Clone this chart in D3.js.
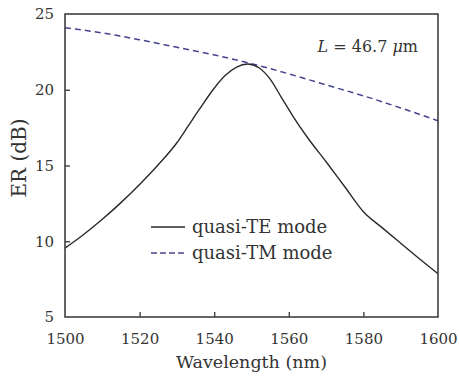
<!DOCTYPE html>
<html>
<head>
<meta charset="utf-8">
<script src="https://cdn.jsdelivr.net/npm/d3@7"></script>
<style>
  body { margin: 0; background: #fff; }
  text { font-family: "DejaVu Serif", serif; fill: #333; }
</style>
</head>
<body>
<div id="chart"></div>
<script>
// data
var teWave = [1500, 1505, 1510, 1515, 1520, 1525, 1530, 1533, 1536, 1540, 1543, 1546, 1549, 1552, 1555, 1558, 1561, 1565, 1570, 1575, 1580, 1585, 1590, 1595, 1600];
var teER   = [9.55, 10.45, 11.45, 12.55, 13.75, 15.05, 16.5, 17.6, 18.7, 20.1, 20.95, 21.5, 21.7, 21.45, 20.7, 19.5, 18.3, 16.85, 15.25, 13.6, 11.95, 10.9, 9.87, 8.85, 7.85];
var tmWave = [1500, 1510, 1520, 1530, 1540, 1550, 1560, 1570, 1580, 1590, 1600];
var tmER   = [24.1, 23.75, 23.3, 22.8, 22.3, 21.72, 21.05, 20.32, 19.6, 18.8, 17.95];
var xTicks = [1500, 1520, 1540, 1560, 1580, 1600];
var yTicks = [5, 10, 15, 20, 25];
var legendLabels = ["quasi-TE mode", "quasi-TM mode"];

var width = 459, height = 377;
var plotLeft = 65, plotRight = 438, plotTop = 14, plotBottom = 317;
var tmColor = "#45458f";

var svg = d3.select("#chart").append("svg").attr("width", width).attr("height", height);

var x = d3.scaleLinear().domain([1500, 1600]).range([plotLeft, plotRight]);
var y = d3.scaleLinear().domain([5, 25]).range([plotBottom, plotTop]);

var line = d3.line().x(function(d){ return x(d[0]); }).y(function(d){ return y(d[1]); }).curve(d3.curveMonotoneX);

var te = teWave.map(function(w, i){ return [w, teER[i]]; });
var tm = tmWave.map(function(w, i){ return [w, tmER[i]]; });

svg.append("path").datum(tm).attr("d", line)
  .attr("fill", "none").attr("stroke", tmColor).attr("stroke-width", 1.5).attr("stroke-dasharray", "6,4");
svg.append("path").datum(te).attr("d", line)
  .attr("fill", "none").attr("stroke", "#2a2a2a").attr("stroke-width", 1.4);

// axes, ticks pointing inward
var xaxis = d3.axisBottom(x).tickValues(xTicks).tickFormat(d3.format("d")).tickSizeInner(-5).tickSizeOuter(0).tickPadding(16);
var yaxis = d3.axisLeft(y).tickValues(yTicks).tickFormat(d3.format("d")).tickSizeInner(-5).tickSizeOuter(0).tickPadding(11);

var gx = svg.append("g").attr("transform", "translate(0," + plotBottom + ")").call(xaxis);
var gy = svg.append("g").attr("transform", "translate(" + plotLeft + ",0)").call(yaxis);
[gx, gy].forEach(function(g){
  g.select(".domain").remove();
  g.selectAll("line").attr("stroke", "#333").attr("stroke-width", 1.3);
  g.selectAll("text").style("font-family", "DejaVu Serif").attr("font-size", 15).attr("fill", "#333");
});
gx.selectAll(".tick").filter(function(d){ return d == 1500 || d == 1600; }).select("line").remove();
gy.selectAll(".tick").filter(function(d){ return d == 5 || d == 25; }).select("line").remove();

// frame
svg.append("rect").attr("x", plotLeft).attr("y", plotTop).attr("width", plotRight - plotLeft).attr("height", plotBottom - plotTop)
  .attr("fill", "none").attr("stroke", "#333").attr("stroke-width", 1.5);

// axis titles
svg.append("text").attr("x", (plotLeft + plotRight) / 2).attr("y", 368).attr("text-anchor", "middle")
  .attr("font-size", 17.5).text("Wavelength (nm)");
svg.append("text").attr("transform", "translate(26,158) rotate(-90)").attr("text-anchor", "middle")
  .attr("font-size", 20).text("ER (dB)");

// annotation
var ann = svg.append("text").attr("x", 418).attr("y", 52).attr("text-anchor", "end").attr("font-size", 16);
ann.append("tspan").attr("font-style", "italic").text("L");
ann.append("tspan").text(" = 46.7 ");
ann.append("tspan").attr("font-style", "italic").text("\u03bc");
ann.append("tspan").text("m");

// legend
var lg = svg.append("g");
legendLabels.forEach(function(lab, i){
  var yy = 227 + i * 26;
  lg.append("line").attr("x1", 151).attr("x2", 185).attr("y1", yy).attr("y2", yy)
    .attr("stroke", i == 0 ? "#2a2a2a" : tmColor).attr("stroke-width", 1.4)
    .attr("stroke-dasharray", i == 0 ? null : "6,3");
  lg.append("text").attr("x", 192).attr("y", yy + 6).attr("font-size", 18).text(lab);
});
</script>
</body>
</html>
